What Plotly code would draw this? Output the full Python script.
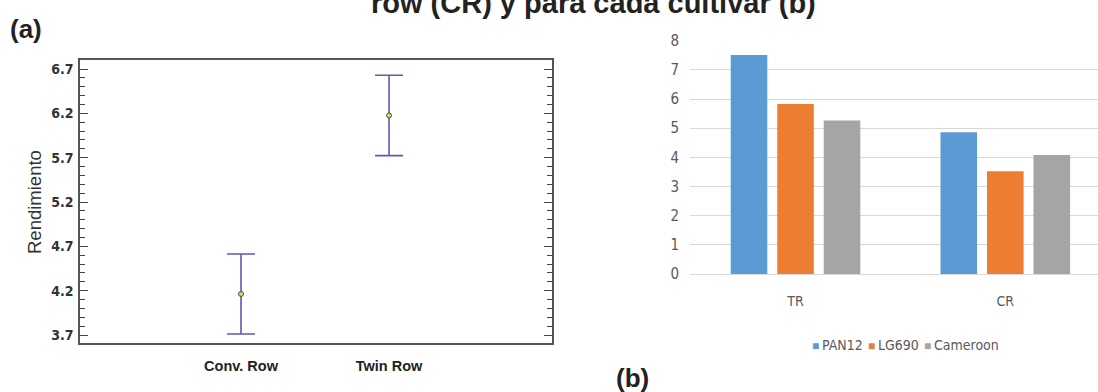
import plotly.graph_objects as go

# ---- data: panel (a) ----
systems = ["Conv. Row", "Twin Row"]
rend_mean = [4.163, 6.176]
rend_err = [0.451, 0.453]
a_ticks = [3.7, 4.2, 4.7, 5.2, 5.7, 6.2, 6.7]

# ---- data: panel (b) ----
groups = ["TR", "CR"]
cultivars = ["PAN12", "LG690", "Cameroon"]
pan12 = [7.51, 4.86]
lg690 = [5.83, 3.52]
cameroon = [5.26, 4.08]
b_ticks = [0, 1, 2, 3, 4, 5, 6, 7, 8]
colors = ["#5b9bd5", "#ed7d31", "#a5a5a5"]

W, H = 1098, 392
def px(x):
    return x / W
def py(y):
    return 1 - y / H

NARROW = "Liberation Sans Narrow, Arial Narrow, DejaVu Sans Condensed, sans-serif"
ARIAL = "Liberation Sans, Arial, sans-serif"

fig = go.Figure()

# panel (a): means with intervals
fig.add_trace(go.Scatter(
    x=systems, y=rend_mean, mode="markers",
    marker=dict(symbol="circle", size=5, color="#d8d870",
                line=dict(color="#555533", width=1)),
    error_y=dict(type="data", array=rend_err, symmetric=True,
                 color="#5959b6", thickness=1.6, width=14),
    xaxis="x", yaxis="y", showlegend=False, hoverinfo="skip",
))

# panel (b): grouped bars
for name, vals, c in zip(cultivars, [pan12, lg690, cameroon], colors):
    fig.add_trace(go.Bar(
        x=groups, y=vals, name=name, marker=dict(color=c, line=dict(width=0)),
        xaxis="x2", yaxis="y2", showlegend=False,
    ))

fig.update_layout(
    width=W, height=H, autosize=False,
    margin=dict(l=0, r=0, t=0, b=0, pad=0),
    paper_bgcolor="white", plot_bgcolor="white",
    barmode="group", bargap=0.335, bargroupgap=0.213,
    xaxis=dict(
        domain=[px(80), px(552)], anchor="y", automargin=False,
        type="category", range=[-1.088, 2.101],
        showline=True, linecolor="#555", linewidth=1.5, mirror=True,
        showgrid=False, zeroline=False, ticks="",
        tickfont=dict(family=ARIAL, size=14.5, color="#222", weight="bold"),
        ticklabelstandoff=9,
    ),
    yaxis=dict(
        domain=[py(343), py(60)], anchor="x", automargin=False,
        range=[3.610, 6.8015],
        tickvals=a_ticks, ticktext=[f"{v:.1f}" for v in a_ticks],
        showline=True, linecolor="#555", linewidth=1.5, mirror="allticks",
        showgrid=False, zeroline=False,
        ticks="inside", ticklen=8, tickwidth=1.3, tickcolor="#444",
        minor=dict(dtick=0.1, tick0=3.7, ticks="inside", ticklen=5,
                   tickwidth=1.1, tickcolor="#444", showgrid=False),
        tickfont=dict(family=NARROW, size=14, color="#333", weight="bold"),
        ticklabelstandoff=2,
    ),
    xaxis2=dict(
        domain=[px(690), 1.0], anchor="y2", automargin=False,
        type="category", range=[-0.503, 1.442],
        showline=False, showgrid=False, zeroline=False, ticks="",
        tickfont=dict(family=NARROW, size=14, color="#595959"),
        ticklabelstandoff=17,
    ),
    yaxis2=dict(
        domain=[py(274), py(40.7)], anchor="x2", automargin=False,
        range=[0, 8], tickvals=b_ticks,
        showline=False, showgrid=True, gridcolor="#d9d9d9", gridwidth=1,
        zeroline=True, zerolinecolor="#d9d9d9", zerolinewidth=1,
        ticks="", tickfont=dict(family=NARROW, size=15, color="#595959"),
        ticklabelstandoff=10,
    ),
)

annotations = [
    dict(text="Rendimiento", x=px(35), y=py(202), textangle=-90,
         font=dict(family=ARIAL, size=18.5, color="#333")),
    dict(text="<b>(a)</b>", x=px(26), y=py(29),
         font=dict(family=ARIAL, size=26, color="#222")),
    dict(text="<b>(b)</b>", x=px(632), y=py(378),
         font=dict(family=ARIAL, size=26, color="#222")),
    dict(text="<b>row (CR) y para cada cultivar (b)</b>", x=px(593), y=py(3),
         font=dict(family=ARIAL, size=29, color="#222")),
]
# legend for panel (b)
leg_x = [810, 866, 922]
for name, c, lx in zip(cultivars, colors, leg_x):
    annotations.append(dict(text="■", x=px(lx), y=py(345), xanchor="left",
                            font=dict(size=12, color=c)))
    annotations.append(dict(text=name, x=px(lx + 10), y=py(345), xanchor="left",
                            font=dict(family=NARROW, size=14, color="#595959")))
for a in annotations:
    a.update(xref="paper", yref="paper", showarrow=False)
    a.setdefault("xanchor", "center")
    a.setdefault("yanchor", "middle")
fig.update_layout(annotations=annotations)

fig.write_html("out.html", config={"displayModeBar": False},
               post_script="document.body.style.margin='0';")
